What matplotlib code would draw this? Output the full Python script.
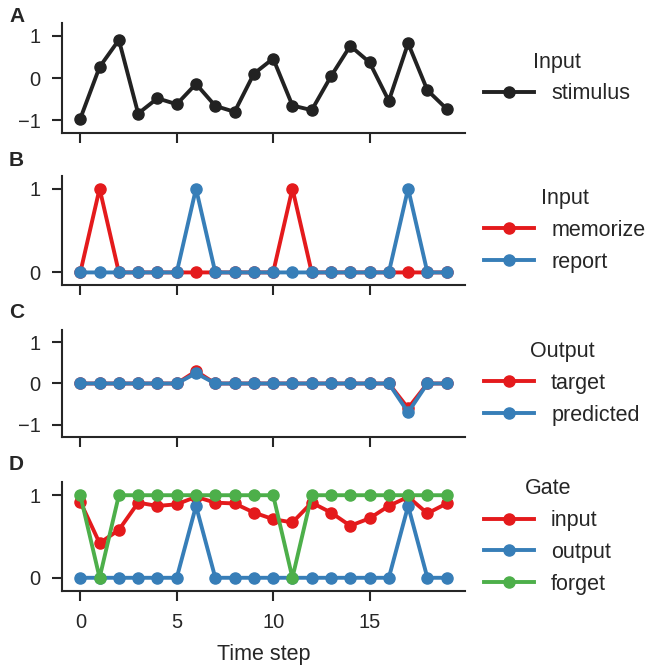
import numpy as np
import matplotlib
matplotlib.use("Agg")
import matplotlib.pyplot as plt

# === data ===
t = np.arange(20)
stimulus = [-0.96, 0.26, 0.90, -0.84, -0.48, -0.62, -0.14, -0.66, -0.80, 0.10,
            0.46, -0.65, -0.76, 0.04, 0.76, 0.37, -0.54, 0.82, -0.29, -0.73]
memorize = [0, 1, 0, 0, 0, 0, 0, 0, 0, 0, 0, 1, 0, 0, 0, 0, 0, 0, 0, 0]
report = [0, 0, 0, 0, 0, 0, 1, 0, 0, 0, 0, 0, 0, 0, 0, 0, 0, 1, 0, 0]
target = [0, 0, 0, 0, 0, 0, 0.3, 0, 0, 0, 0, 0, 0, 0, 0, 0, 0, -0.6, 0, 0]
predicted = [0, 0, 0, 0, 0, 0, 0.25, 0, 0, 0, 0, 0, 0, 0, 0, 0, 0, -0.7, 0, 0]
gate_input = [0.92, 0.42, 0.58, 0.91, 0.87, 0.89, 0.98, 0.91, 0.90, 0.79,
              0.71, 0.67, 0.91, 0.79, 0.63, 0.72, 0.87, 0.98, 0.78, 0.90]
gate_output = [0, 0, 0, 0, 0, 0, 0.87, 0, 0, 0, 0, 0, 0, 0, 0, 0, 0, 0.87, 0, 0]
gate_forget = [1, 0, 1, 1, 1, 1, 1, 1, 1, 1, 1, 0, 1, 1, 1, 1, 1, 1, 1, 1]

red, blue, green, black = '#e41a1c', '#377eb8', '#4daf4a', '#222222'
txt = '#262626'

plt.rcParams['font.family'] = ['Liberation Sans', 'DejaVu Sans']
plt.rcParams['font.size'] = 15.5
plt.rcParams['axes.edgecolor'] = txt
plt.rcParams['xtick.color'] = txt
plt.rcParams['ytick.color'] = txt
plt.rcParams['text.color'] = txt
plt.rcParams['axes.labelcolor'] = txt

W, H = 645, 667
fig = plt.figure(figsize=(W / 100, H / 100), dpi=100)

# axes boxes in pixels (top, bottom)
boxes = [(23, 133), (176, 285), (330, 437), (482, 591)]
left, right = 62, 465
axs = []
for top, bot in boxes:
    ax = fig.add_axes([left / W, 1 - bot / H, (right - left) / W, (bot - top) / H])
    axs.append(ax)

panels = [
    ("Input", [(stimulus, black, "stimulus")], (-1.3, 1.3), [-1, 0, 1]),
    ("Input", [(memorize, red, "memorize"), (report, blue, "report")], (-0.15, 1.15), [0, 1]),
    ("Output", [(target, red, "target"), (predicted, blue, "predicted")], (-1.3, 1.3), [-1, 0, 1]),
    ("Gate", [(gate_input, red, "input"), (gate_output, blue, "output"),
              (gate_forget, green, "forget")], (-0.16, 1.16), [0, 1]),
]

for i, (ax, (title, series, ylim, yt)) in enumerate(zip(axs, panels)):
    for vals, col, lab in series:
        ax.plot(t, vals, color=col, lw=2.8, marker='o', ms=8, label=lab)
    ax.set_xlim(-0.95, 19.95)
    ax.set_ylim(*ylim)
    ax.set_yticks(yt)
    ax.set_xticks([0, 5, 10, 15])
    ax.spines['top'].set_visible(False)
    ax.spines['right'].set_visible(False)
    for s in ['left', 'bottom']:
        ax.spines[s].set_linewidth(1.5)
    ax.tick_params(width=1.5, length=7.5, pad=8, direction='out', labelsize=14.5)
    if i < 3:
        ax.set_xticklabels([])
    leg = ax.legend(title=title, loc='center left', bbox_to_anchor=(1.0, 0.5),
                    frameon=False, handlelength=2.3, fontsize=15.5, title_fontsize=15.5)

axs[-1].set_xlabel("Time step", fontsize=15.5, labelpad=9)

for lab, y in zip("ABCD", [17, 160, 312, 465]):
    fig.text(9 / W, 1 - y / H, lab, fontsize=15, fontweight='bold', va='center', ha='left')

fig.savefig("out.png", dpi=100)
